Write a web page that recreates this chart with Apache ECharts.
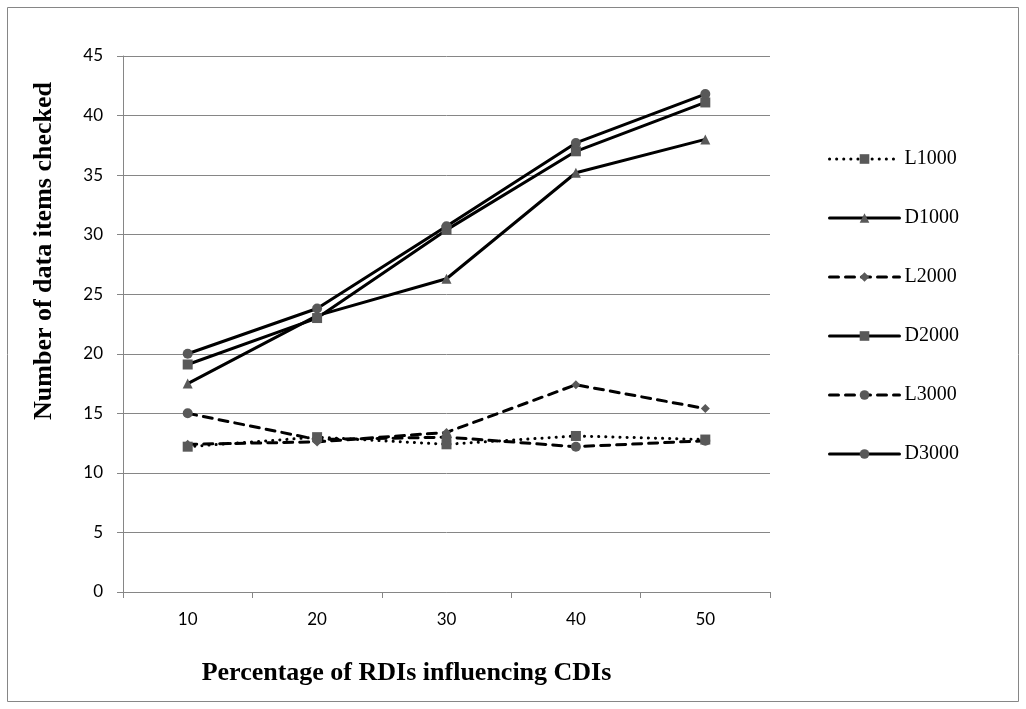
<!DOCTYPE html>
<html>
<head>
<meta charset="utf-8">
<script src="https://cdn.jsdelivr.net/npm/echarts@6/dist/echarts.min.js"></script>
<style>
  html, body { margin: 0; padding: 0; background: #fff; }
  #chart { width: 1026px; height: 709px; }
</style>
</head>
<body>
<div id="chart"></div>
<script>
// x categories and series values
var categories = ['10', '20', '30', '40', '50'];
var L1000 = [12.2, 13.0, 12.4, 13.1, 12.8];
var D1000 = [17.5, 23.2, 26.3, 35.2, 38.0];
var L2000 = [12.4, 12.6, 13.4, 17.4, 15.4];
var D2000 = [19.1, 23.0, 30.4, 37.0, 41.1];
var L3000 = [15.0, 12.8, 13.0, 12.2, 12.7];
var D3000 = [20.0, 23.8, 30.7, 37.7, 41.8];
var yTicks = [0, 5, 10, 15, 20, 25, 30, 35, 40, 45];

var chart = echarts.init(document.getElementById('chart'));

var markerColor = '#595959';

function makeSeries(name, data, symbol, dash, symbolSize) {
  return {
    name: name,
    type: 'line',
    data: data,
    symbol: symbol,
    symbolSize: symbolSize,
    showAllSymbol: true,
    itemStyle: { color: markerColor },
    lineStyle: { color: '#000', width: 3, type: dash, cap: 'round' },
    emphasis: { disabled: true },
    animation: false
  };
}

var option = {
  backgroundColor: '#fff',
  animation: false,
  graphic: [{
    type: 'rect',
    shape: { x: 7.5, y: 7.5, width: 1011, height: 694 },
    style: { fill: 'none', stroke: '#868686', lineWidth: 1 },
    silent: true
  }],
  grid: { left: 123, right: 256, top: 56, bottom: 117 },
  legend: {
    orient: 'vertical',
    left: 823,
    top: 144,
    itemWidth: 70,
    itemHeight: 12,
    itemGap: 39,
    lineStyle: { width: 3 },
    textStyle: { fontFamily: 'Liberation Serif', fontSize: 20, color: '#000' },
    data: ['L1000', 'D1000', 'L2000', 'D2000', 'L3000', 'D3000']
  },
  xAxis: {
    type: 'category',
    data: categories,
    boundaryGap: true,
    name: 'Percentage of RDIs influencing CDIs',
    nameLocation: 'middle',
    nameGap: 68,
    nameTextStyle: {
      fontFamily: 'Liberation Serif', fontWeight: 'bold', fontSize: 26, color: '#000',
      padding: [0, 80, 0, 0]
    },
    axisLine: { lineStyle: { color: '#868686', width: 1 } },
    axisTick: { show: true, length: 6, alignWithLabel: false, lineStyle: { color: '#868686' } },
    axisLabel: { margin: 19, fontFamily: 'Lato', fontSize: 17, color: '#000' }
  },
  yAxis: {
    type: 'value',
    min: yTicks[0],
    max: yTicks[yTicks.length - 1],
    interval: 5,
    name: 'Number of data items checked',
    nameLocation: 'middle',
    nameGap: 66,
    nameTextStyle: {
      fontFamily: 'Liberation Serif', fontWeight: 'bold', fontSize: 26, color: '#000',
      padding: [0, 0, 0, 146]
    },
    axisLine: { show: true, lineStyle: { color: '#868686', width: 1 } },
    axisTick: { show: true, length: 6, lineStyle: { color: '#868686' } },
    axisLabel: { margin: 20, fontFamily: 'Lato', fontSize: 17, color: '#000' },
    splitLine: { lineStyle: { color: '#868686', width: 1 } }
  },
  series: [
    makeSeries('L1000', L1000, 'rect', [0.1, 7], 10),
    makeSeries('D1000', D1000, 'triangle', 'solid', 10),
    makeSeries('L2000', L2000, 'diamond', [9, 7], 9),
    makeSeries('D2000', D2000, 'rect', 'solid', 10),
    makeSeries('L3000', L3000, 'circle', [9, 7], 10),
    makeSeries('D3000', D3000, 'circle', 'solid', 10)
  ]
};

chart.setOption(option);
</script>
</body>
</html>
